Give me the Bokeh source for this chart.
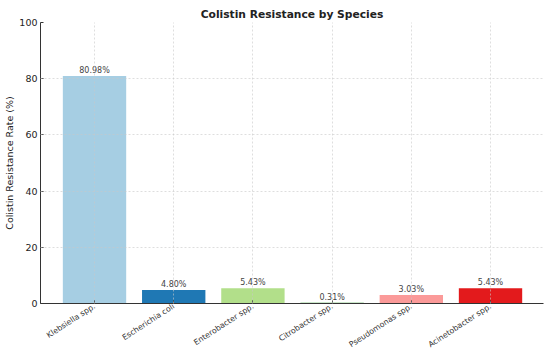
from bokeh.plotting import figure
from bokeh.models import Range1d, FixedTicker, ColumnDataSource
from bokeh.embed import file_html
from bokeh.resources import INLINE
from bokeh.core.properties import value
import math

species = ["Klebsiella spp.", "Escherichia coli", "Enterobacter spp.",
           "Citrobacter spp.", "Pseudomonas spp.", "Acinetobacter spp."]
rates = [80.98, 4.80, 5.43, 0.31, 3.03, 5.43]
colors = ["#a6cee3", "#1f78b4", "#b2df8a", "#33a02c", "#fb9a99", "#e31a1c"]
y_ticks = [0, 20, 40, 60, 80, 100]

xs = list(range(len(species)))
src = ColumnDataSource(dict(x=xs, top=rates, color=colors,
                            label=[f"{r:.2f}%" for r in rates]))

FONT = "DejaVu Sans"
p = figure(width=550, height=357, output_backend="svg", toolbar_location=None,
           x_range=Range1d(-0.682, 5.669), y_range=Range1d(0, 100),
           title="Colistin Resistance by Species",
           min_border_left=40, min_border_right=7, min_border_bottom=54, min_border_top=22)
p.title.align = "center"
p.title.text_font = FONT
p.title.text_font_size = "10.7px"
p.title.text_font_style = "bold"
p.title.text_color = "#222222"
p.title.offset = 0
p.title.standoff = 3

p.vbar(x="x", top="top", width=0.8, bottom=0, color="color", source=src, line_color=None)
p.text(x="x", y="top", text="label", source=src, text_align="center",
       text_baseline="bottom", y_offset=-1, text_font=value(FONT),
       text_font_size="8px", text_color="#444444")

p.xaxis.ticker = FixedTicker(ticks=xs)
p.xaxis.major_label_overrides = {i: s for i, s in enumerate(species)}
p.xaxis.major_label_orientation = math.radians(33)
p.xaxis.major_label_text_font = FONT
p.xaxis.major_label_text_font_size = "7.8px"
p.xaxis.major_label_text_color = "#333333"
p.xaxis.major_label_standoff = 2
p.xaxis.major_tick_out = 0
p.xaxis.major_tick_in = 3
p.xaxis.minor_tick_line_color = None
p.xaxis.axis_line_color = "#333333"
p.xaxis.major_tick_line_color = "#333333"

p.yaxis.ticker = FixedTicker(ticks=y_ticks)
p.yaxis.axis_label = "Colistin Resistance Rate (%)"
p.yaxis.axis_label_text_font = FONT
p.yaxis.axis_label_text_font_size = "9.5px"
p.yaxis.axis_label_text_font_style = "normal"
p.yaxis.axis_label_text_color = "#222222"
p.yaxis.axis_label_standoff = 1
p.yaxis.major_label_standoff = 3
p.yaxis.major_label_text_font = FONT
p.yaxis.major_label_text_font_size = "9.5px"
p.yaxis.major_label_text_color = "#222222"
p.yaxis.major_tick_out = 0
p.yaxis.major_tick_in = 3
p.yaxis.minor_tick_line_color = None
p.yaxis.axis_line_color = "#333333"
p.yaxis.major_tick_line_color = "#333333"

for g in (p.xgrid, p.ygrid):
    g.grid_line_color = "#c8c8c8"
    g.grid_line_dash = "2 2"
    g.grid_line_alpha = 0.6
    g.level = "overlay"
p.outline_line_color = None

open("out.html", "w").write(file_html(p, INLINE))
